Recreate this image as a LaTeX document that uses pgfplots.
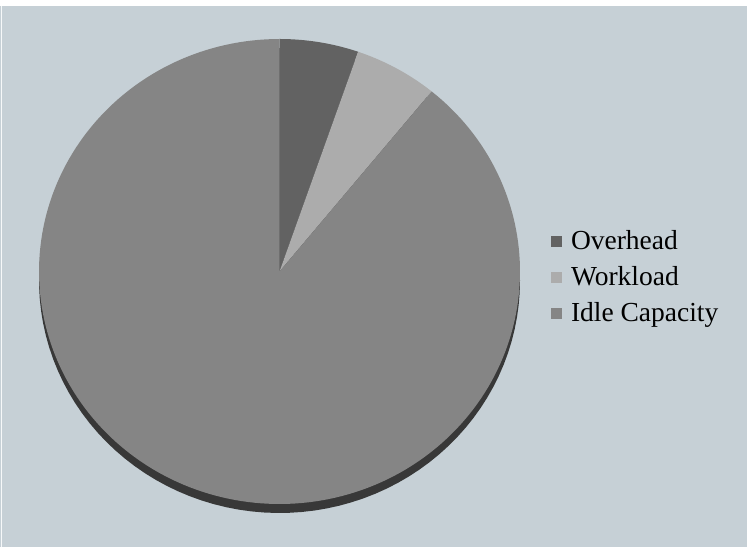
\documentclass[border=0pt]{standalone}
\usepackage{pgfplots}
\pgfplotsset{compat=1.18}
\usepackage{pgfplotstable}
\usepackage{fontspec}
\setmainfont{Liberation Serif}
\definecolor{bgcol}{RGB}{198,208,214}
\definecolor{cOver}{RGB}{98,98,98}
\definecolor{cWork}{RGB}{172,172,172}
\definecolor{cIdle}{RGB}{133,133,133}
\definecolor{cShadow}{RGB}{56,56,56}
\pgfplotstableread{
label value
Overhead 5.3
Workload 5.6
Idle 89.1
}\piedata
\begin{document}%
\begin{tikzpicture}
\pgfplotstablegetelem{0}{value}\of\piedata\let\vA\pgfplotsretval
\pgfplotstablegetelem{1}{value}\of\piedata\let\vB\pgfplotsretval
\pgfplotstablegetelem{2}{value}\of\piedata\let\vC\pgfplotsretval
\pgfmathsetmacro\aZero{90}
\pgfmathsetmacro\aA{90-3.6*\vA}
\pgfmathsetmacro\aB{\aA-3.6*\vB}
\pgfmathsetmacro\aC{\aB-3.6*\vC}
\fill[bgcol] (0,0) rectangle (747bp,541bp);
\draw[white!85!bgcol, line width=1bp] (1.5bp,0) -- (1.5bp,541bp);
\begin{axis}[
  at={(0,0)}, anchor=south west,
  width=747bp, height=547bp, scale only axis,
  xmin=0, xmax=747, ymin=0, ymax=547,
  hide axis, clip=false,
  legend style={draw=none, fill=none, inner sep=0pt, outer sep=0pt,
    at={(axis cs:551,316)}, anchor=north west,
    font=\fontsize{27.5bp}{36bp}\selectfont,
    column sep=0pt, row sep=0pt,
    nodes={inner sep=0pt, text height=19bp, text depth=17bp, anchor=base west}},
  legend cell align=left,
  legend image code/.code={\fill[#1] (0bp,3bp) rectangle (11bp,14bp); \path (20bp,0bp);},
]
% shadow (side of the 3-D pie)
\addplot[fill=cShadow, draw=none, domain=0:360, samples=120, variable=\t, forget plot]
  ({279.5+240.5*cos(\t)},{266.5+232.5*sin(\t)});
\addplot[fill=cOver, draw=none, domain=\aZero:\aA, samples=30, variable=\t]
  ({279.5+240.5*cos(\t)},{275.5+232.5*sin(\t)}) -- (axis cs:279.5,275.5) -- cycle;
\addlegendentry{Overhead}
\addplot[fill=cWork, draw=none, domain=\aA:\aB, samples=30, variable=\t]
  ({279.5+240.5*cos(\t)},{275.5+232.5*sin(\t)}) -- (axis cs:279.5,275.5) -- cycle;
\addlegendentry{Workload}
\addplot[fill=cIdle, draw=none, domain=\aB:\aC, samples=200, variable=\t]
  ({279.5+240.5*cos(\t)},{275.5+232.5*sin(\t)}) -- (axis cs:279.5,275.5) -- cycle;
\addlegendentry{Idle Capacity}
\end{axis}
\pgfresetboundingbox
\path (0,0) rectangle (747bp,547bp);
\end{tikzpicture}%
\end{document}
